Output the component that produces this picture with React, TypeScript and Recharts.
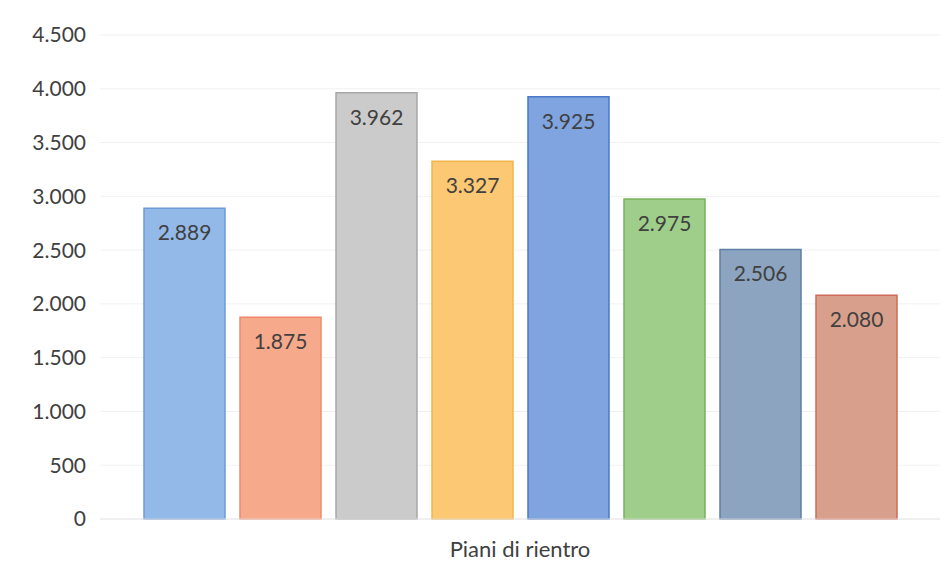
import { BarChart, Bar, XAxis, YAxis, CartesianGrid, LabelList } from 'recharts';

const category = 'Piani di rientro';
const seriesKeys = ['s1', 's2', 's3', 's4', 's5', 's6', 's7', 's8'];
const seriesValues = [2889, 1875, 3962, 3327, 3925, 2975, 2506, 2080];
const yTicks = [0, 500, 1000, 1500, 2000, 2500, 3000, 3500, 4000, 4500];

const fills = ['#93b9e8', '#f6a98b', '#cbcbcb', '#fcc874', '#7fa4e0', '#9fce8a', '#8ca4c0', '#d8a08c'];
const strokes = ['#6c9bd8', '#ee8a6a', '#a8a8a8', '#f2b54c', '#4a78c8', '#78b25c', '#5e7fa4', '#d06a5a'];

const row: Record<string, string | number> = { name: category };
seriesKeys.forEach((k, i) => {
  row[k] = seriesValues[i];
});
const data = [row];

// formato italiano: 2.889
const fmt = (v: number) => v.toLocaleString('it-IT');

export default function App() {
  return (
    <div style={{ position: 'absolute', left: 0, top: 0, background: '#fff' }}>
      <BarChart
        width={951}
        height={580}
        data={data}
        margin={{ top: 35, right: 11, left: 0, bottom: 0 }}
        barGap={15}
        style={{ fontFamily: 'Lato, "Open Sans", sans-serif' }}
      >
        <CartesianGrid vertical={false} stroke="#f1f1f1" />
        <XAxis
          dataKey="name"
          height={61}
          tickSize={0}
          tickMargin={22}
          axisLine={{ stroke: '#e6e6e6' }}
          tick={{ fill: '#404040', fontSize: 22 }}
        />
        <YAxis
          width={100}
          domain={[0, 4500]}
          ticks={yTicks}
          tickFormatter={fmt}
          axisLine={false}
          tickSize={0}
          tickMargin={14}
          tick={{ fill: '#404040', fontSize: 21 }}
        />
        {seriesKeys.map((k, i) => (
          <Bar
            key={k}
            dataKey={k}
            barSize={81}
            fill={fills[i]}
            stroke={strokes[i]}
            strokeWidth={1.5}
            isAnimationActive={false}
          >
            <LabelList
              dataKey={k}
              position="insideTop"
              offset={17}
              formatter={(v: number) => fmt(v)}
              style={{ fill: '#404040', fontSize: 21 }}
            />
          </Bar>
        ))}
      </BarChart>
    </div>
  );
}
